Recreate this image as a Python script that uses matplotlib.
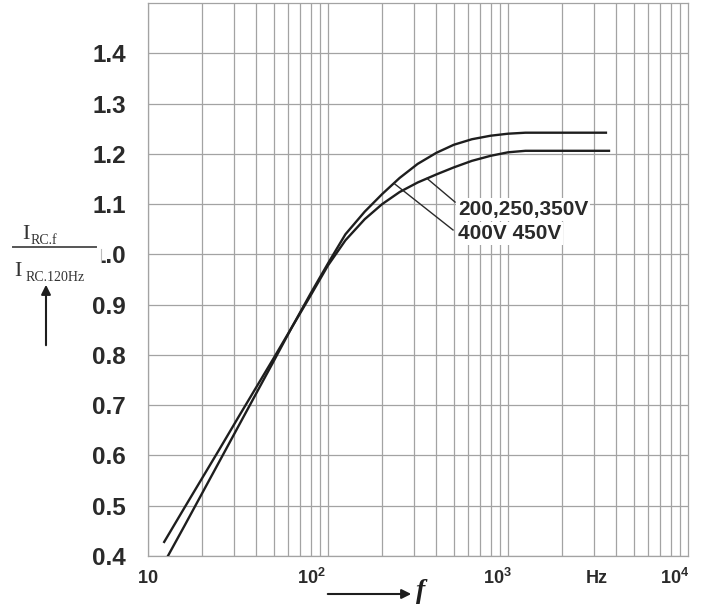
import numpy as np
import matplotlib
matplotlib.use("Agg")
import matplotlib.pyplot as plt
from matplotlib.lines import Line2D
from matplotlib.patches import Rectangle, FancyArrowPatch

plt.rcParams['font.family'] = ['Liberation Sans', 'DejaVu Sans']
plt.rcParams['mathtext.fontset'] = 'custom'
plt.rcParams['mathtext.rm'] = 'Liberation Serif'
plt.rcParams['mathtext.bf'] = 'Liberation Sans:bold'

# curve for 400V / 450V (higher plateau)
f_hi = [12.9, 16, 20, 25, 32, 40, 50, 63, 80, 100, 125, 160, 200, 250, 315, 400, 500, 630, 800, 1000, 1250, 3500]
y_hi = [0.400, 0.461, 0.525, 0.589, 0.660, 0.724, 0.788, 0.855, 0.922, 0.982, 1.040, 1.085,
        1.120, 1.152, 1.180, 1.202, 1.218, 1.229, 1.236, 1.240, 1.242, 1.242]

# curve for 200, 250, 350V (lower plateau)
f_lo = [12.3, 16, 20, 25, 32, 40, 50, 63, 80, 100, 125, 160, 200, 250, 315, 400, 500, 630, 800, 1000, 1250, 3640]
y_lo = [0.428, 0.497, 0.555, 0.613, 0.678, 0.736, 0.794, 0.855, 0.918, 0.978, 1.028, 1.070,
        1.100, 1.124, 1.143, 1.159, 1.173, 1.186, 1.196, 1.203, 1.206, 1.206]

y_ticks = [0.4, 0.5, 0.6, 0.7, 0.8, 0.9, 1.0, 1.1, 1.2, 1.3, 1.4]
y_labels = ['0.4', '0.5', '0.6', '0.7', '0.8', '0.9', '1.0', '1.1', '1.2', '1.3', '1.4']

# x labels sit a bit left of the decade lines, as in the original sheet
x_label_pos = [10, 81, 870, 3120, 8470]
x_label_txt = [r'$\mathbf{10}$', r'$\mathbf{10^{2}}$', r'$\mathbf{10^{3}}$', 'Hz', r'$\mathbf{10^{4}}$']

W, H = 708, 604
fig = plt.figure(figsize=(W / 100, H / 100), dpi=100)
ax = fig.add_axes([148 / W, 48 / H, 540 / W, 553 / H])

grid_c = '#a3a3a3'
ax.set_xscale('log')
ax.set_xlim(10, 1e4)
ax.set_ylim(0.4, 1.5)

# log grid, every 1..9 of each decade
for dec in [10, 100, 1000]:
    for m in range(1, 10):
        ax.axvline(dec * m, color=grid_c, lw=0.9, zorder=1)
for yv in y_ticks:
    ax.axhline(yv, color=grid_c, lw=0.9, zorder=1)
for s in ax.spines.values():
    s.set_color(grid_c)
    s.set_linewidth(0.9)

ax.plot(f_hi, y_hi, color='#1e1e1e', lw=1.7, zorder=3, solid_joinstyle='round')
ax.plot(f_lo, y_lo, color='#1e1e1e', lw=1.7, zorder=3, solid_joinstyle='round')

ax.set_yticks(y_ticks)
ax.set_yticklabels(y_labels, fontsize=17.5, fontweight='bold', color='#2a2a2a')
ax.tick_params(axis='y', length=0, pad=16)
ax.set_xticks([])
ax.xaxis.set_minor_locator(matplotlib.ticker.NullLocator())

for xp, t in zip(x_label_pos, x_label_txt):
    ax.text(xp, -0.04, t, transform=ax.get_xaxis_transform(), ha='center', va='center',
            fontsize=13, fontweight='bold', color='#2a2a2a')

# leader lines and labels
ax.plot([355, 508], [1.151, 1.104], color='#2a2a2a', lw=1.0, zorder=3)
ax.plot([235, 495], [1.140, 1.0485], color='#2a2a2a', lw=1.0, zorder=3)
ax.text(527, 1.090, '200,250,350V', ha='left', va='center', fontsize=15, fontweight='bold',
        color='#2a2a2a', zorder=4,
        bbox=dict(facecolor='white', edgecolor='none', pad=1.5))
ax.text(527, 1.041, '400V 450V', ha='left', va='center', fontsize=15, fontweight='bold',
        color='#2a2a2a', zorder=4,
        bbox=dict(facecolor='white', edgecolor='none', pad=1.5))


def fx(px):
    return px / W


def fy(py):
    return 1 - py / H


# the "1" of 1.0 is hidden behind the fraction in the original
fig.add_artist(Rectangle((fx(88), fy(266)), fx(13.5), 28 / H, facecolor='white', edgecolor='none', zorder=5))
fig.add_artist(Line2D([fx(101), fx(101)], [fy(249), fy(262)], color='#bbbbbb', lw=0.8, zorder=6))

# y-axis quantity written as a fraction
serif = ['Liberation Serif', 'DejaVu Serif']
fig.text(fx(22), fy(239), 'I', family=serif, fontsize=16, color='#333333', va='baseline', ha='left', zorder=7)
fig.text(fx(31), fy(244), 'RC.f', family=serif, fontsize=10, color='#333333', va='baseline', ha='left', zorder=7)
fig.add_artist(Line2D([fx(13), fx(96)], [fy(247), fy(247)], color='#555555', lw=1.4, zorder=7))
fig.text(fx(14), fy(276), 'I', family=serif, fontsize=16, color='#333333', va='baseline', ha='left', zorder=7)
fig.text(fx(26), fy(281), 'RC.120Hz', family=serif, fontsize=10, color='#333333', va='baseline', ha='left', zorder=7)

# arrows
fig.add_artist(FancyArrowPatch((fx(46), fy(348)), (fx(46), fy(282)),
               arrowstyle='-|>', mutation_scale=14, color='#1e1e1e', lw=1.5))
fig.add_artist(FancyArrowPatch((fx(325), fy(594)), (fx(414), fy(594)),
               arrowstyle='-|>', mutation_scale=14, color='#1e1e1e', lw=1.5))
fig.text(fx(416), fy(591), 'f', family=serif, style='italic', fontweight='bold',
         fontsize=20, color='#1e1e1e', va='center', ha='left')

fig.savefig('out.png', dpi=100, facecolor='white')
